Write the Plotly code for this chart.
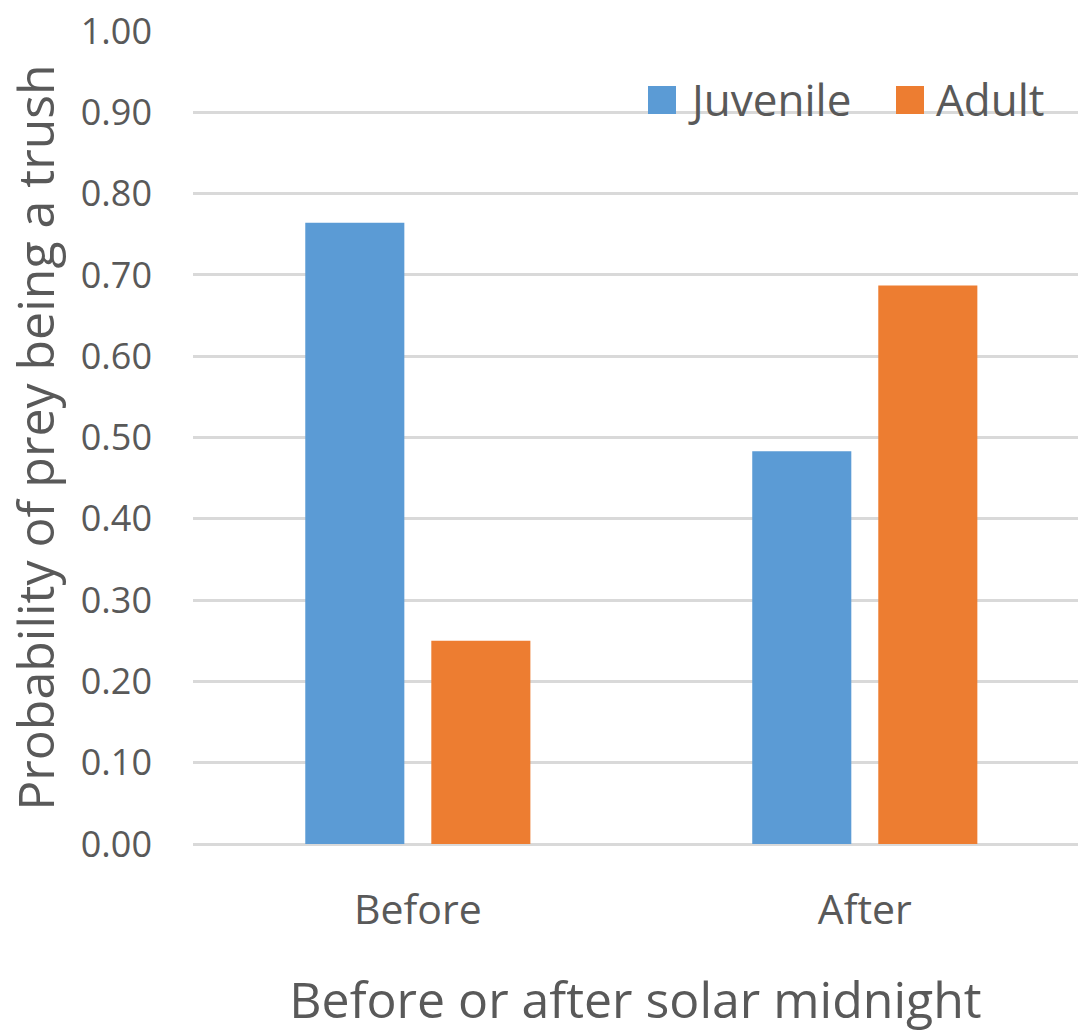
import plotly.graph_objects as go

# Data
periods = ["Before", "After"]
juvenile = [0.764, 0.483]
adult = [0.250, 0.687]
series_names = ["Juvenile", "Adult"]
series_colors = ["#5B9BD5", "#ED7D31"]

y_ticks = [0.0, 0.1, 0.2, 0.3, 0.4, 0.5, 0.6, 0.7, 0.8, 0.9, 1.0]

FONT = "Open Sans"
TEXT_COLOR = "#595959"
GRID_COLOR = "#D9D9D9"

W, H = 1078, 1033
M_L, M_R, M_T, M_B = 193, 0, 31, 189

fig = go.Figure()
for name, vals, color in zip(series_names, [juvenile, adult], series_colors):
    fig.add_trace(go.Bar(
        x=periods, y=vals, name=name,
        marker=dict(color=color, line=dict(width=0)),
        showlegend=False,
    ))

# Legend drawn as coloured squares with labels in the top-right corner
plot_w = W - M_L - M_R
plot_h = H - M_T - M_B


def px_x(p):
    return (p - M_L) / plot_w


def px_y(p):
    return (H - M_B - p) / plot_h


legend_items = [(648, 686), (896, 934)]
shapes = []
annotations = []
for (sx, tx), name, color in zip(legend_items, series_names, series_colors):
    shapes.append(dict(
        type="rect", xref="paper", yref="paper",
        x0=px_x(sx), x1=px_x(sx + 28), y0=px_y(114), y1=px_y(86),
        fillcolor=color, line=dict(width=0),
    ))
    annotations.append(dict(
        text=name, xref="paper", yref="paper",
        x=px_x(tx), y=px_y(99), xanchor="left", yanchor="middle",
        showarrow=False, font=dict(family=FONT, size=44, color=TEXT_COLOR),
    ))

fig.update_layout(
    width=W, height=H,
    margin=dict(l=M_L, r=M_R, t=M_T, b=M_B, pad=0),
    paper_bgcolor="white", plot_bgcolor="white",
    barmode="group", bargap=0.436, bargroupgap=0.214,
    font=dict(family=FONT, color=TEXT_COLOR),
    shapes=shapes, annotations=annotations,
    xaxis=dict(
        type="category", range=[-0.503, 1.477],
        showgrid=False, showline=False, zeroline=False, ticks="",
        tickfont=dict(family=FONT, size=41, color=TEXT_COLOR),
        ticklabelstandoff=38,
        title=dict(text="Before or after solar midnight",
                   font=dict(family=FONT, size=50, color=TEXT_COLOR), standoff=54),
    ),
    yaxis=dict(
        range=[0, 1], tickvals=y_ticks, tickformat=".2f",
        showgrid=True, gridcolor=GRID_COLOR, gridwidth=3,
        showline=False, zeroline=True, zerolinecolor=GRID_COLOR, zerolinewidth=3,
        ticks="", ticklabelstandoff=40,
        tickfont=dict(family=FONT, size=36, color=TEXT_COLOR),
        title=dict(text="Probability of prey being a trush",
                   font=dict(family=FONT, size=50, color=TEXT_COLOR), standoff=10),
    ),
)

fig.write_html("out.html")
